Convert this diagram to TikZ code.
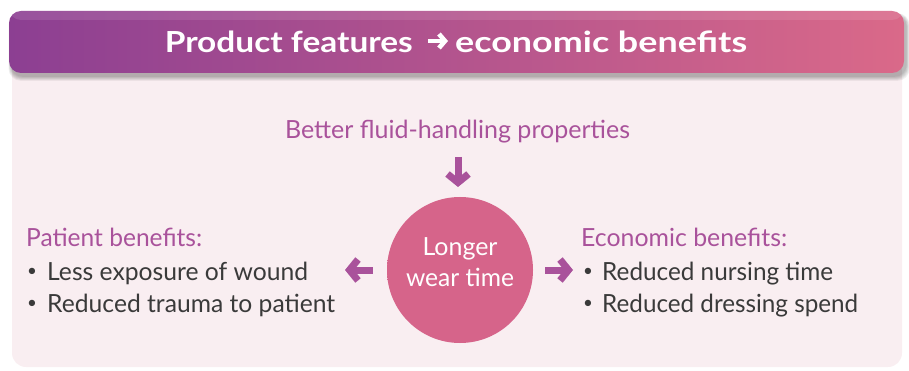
\documentclass[tikz,border=0pt]{standalone}
\usepackage{fontspec}
\usepackage{graphicx}
\setmainfont{Lato}
\usetikzlibrary{arrows.meta}

\definecolor{barleft}{HTML}{8C3F92}
\definecolor{barright}{HTML}{DA6989}
\definecolor{panelbg}{HTML}{F9EEF1}
\definecolor{accent}{HTML}{A9529B}
\definecolor{bodytext}{HTML}{3A3A3A}
\definecolor{coremain}{HTML}{D6648A}
\definecolor{coredark}{HTML}{B9506F}

% set a text to a given width, keeping its height
\newcommand{\fitto}[2]{\resizebox{#1}{\height}{#2}}

\pgfdeclareradialshading{corerim}{\pgfpoint{0bp}{3bp}}{%
  color(0bp)=(coremain); color(43bp)=(coremain);
  color(48bp)=(coredark); color(50bp)=(coredark)}

\tikzset{
  titletext/.style={text=white, font=\bfseries\fontsize{29}{32}\selectfont, inner sep=0pt},
  headtext/.style={text=accent, font=\fontsize{25}{30}\selectfont, inner sep=0pt},
  listtext/.style={text=bodytext, font=\fontsize{25}{30}\selectfont, inner sep=0pt},
  bulletmark/.style={text=bodytext, font=\fontsize{17}{20}\selectfont, inner sep=0pt},
  coretext/.style={text=white, font=\fontsize{25}{30}\selectfont, inner sep=0pt},
  corecircle/.style={circle, shading=corerim, minimum size=146pt, inner sep=0pt},
  bigarrow/.style={draw=accent, line width=7pt,
    -{Straight Barb[length=8.5pt, width=21pt, line width=7pt]}},
  titlearrow/.style={draw=white, line width=4.6pt,
    -{Straight Barb[length=6pt, width=14pt, line width=4.6pt]}},
}

\begin{document}
\begin{tikzpicture}[x=1pt, y=-1pt]
\useasboundingbox (0,0) rectangle (909,371);

% light panel behind the content
\fill[panelbg, rounded corners=14pt] (12,50) rectangle (902,367);

% soft shadow under the title bar
\foreach \g in {6,5,4,3,2,1}
  \fill[black, opacity=0.05, rounded corners=12pt]
    (9+2-\g*0.4, 11+4-\g*0.3) rectangle (904+2+\g*0.6, 73+3+\g*0.8);

% title bar
\shade[left color=barleft, right color=barright, rounded corners=12pt]
  (9,11) rectangle (904,73);
\fill[white, opacity=0.10, rounded corners=12pt] (9,11) rectangle (904,20);
\node[titletext, anchor=base east] (titleA) at (413,53) {\fitto{248pt}{Product features}};
\node[titletext, anchor=base west] (titleB) at (455,53) {\fitto{292pt}{economic benefits}};
\coordinate (tarrS) at (428,41);
\coordinate (tarrE) at (448,41);
\draw[titlearrow] (tarrS) -- (tarrE);

% top feature
\node[headtext, anchor=base] (fluid) at (457.5,139) {\fitto{345pt}{Better fluid-handling properties}};

% central circle
\node[corecircle] (core) at (460,270) {};
\node[coretext, anchor=base] (coreA) at (460,255) {\fitto{75pt}{Longer}};
\node[coretext, anchor=base] (coreB) at (460,286) {\fitto{108pt}{wear time}};

% patient side
\node[headtext, anchor=base west] (pathead) at (26,247) {\fitto{176pt}{Patient benefits:}};
\node[bulletmark] (patdotA) at (32,272) {\textbullet};
\node[listtext, anchor=base west] (patA) at (47,280) {\fitto{261pt}{Less exposure of wound}};
\node[bulletmark] (patdotB) at (32,304) {\textbullet};
\node[listtext, anchor=base west] (patB) at (47,312) {\fitto{288pt}{Reduced trauma to patient}};

% economic side
\node[headtext, anchor=base west] (ecohead) at (581,247) {\fitto{206pt}{Economic benefits:}};
\node[bulletmark] (ecodotA) at (588,272) {\textbullet};
\node[listtext, anchor=base west] (ecoA) at (602,280) {\fitto{231pt}{Reduced nursing time}};
\node[bulletmark] (ecodotB) at (588,304) {\textbullet};
\node[listtext, anchor=base west] (ecoB) at (602,312) {\fitto{256pt}{Reduced dressing spend}};

% connectors
\coordinate (downtip) at (458,187);
\coordinate (lefttip) at (345,270);
\coordinate (righttip) at (573,270);
\draw[bigarrow, shorten <=13pt] (fluid.south -| downtip) -- (downtip);
\draw[bigarrow, shorten <=14pt] (core) -- (lefttip);
\draw[bigarrow, shorten <=12pt] (core) -- (righttip);
\end{tikzpicture}
\end{document}
